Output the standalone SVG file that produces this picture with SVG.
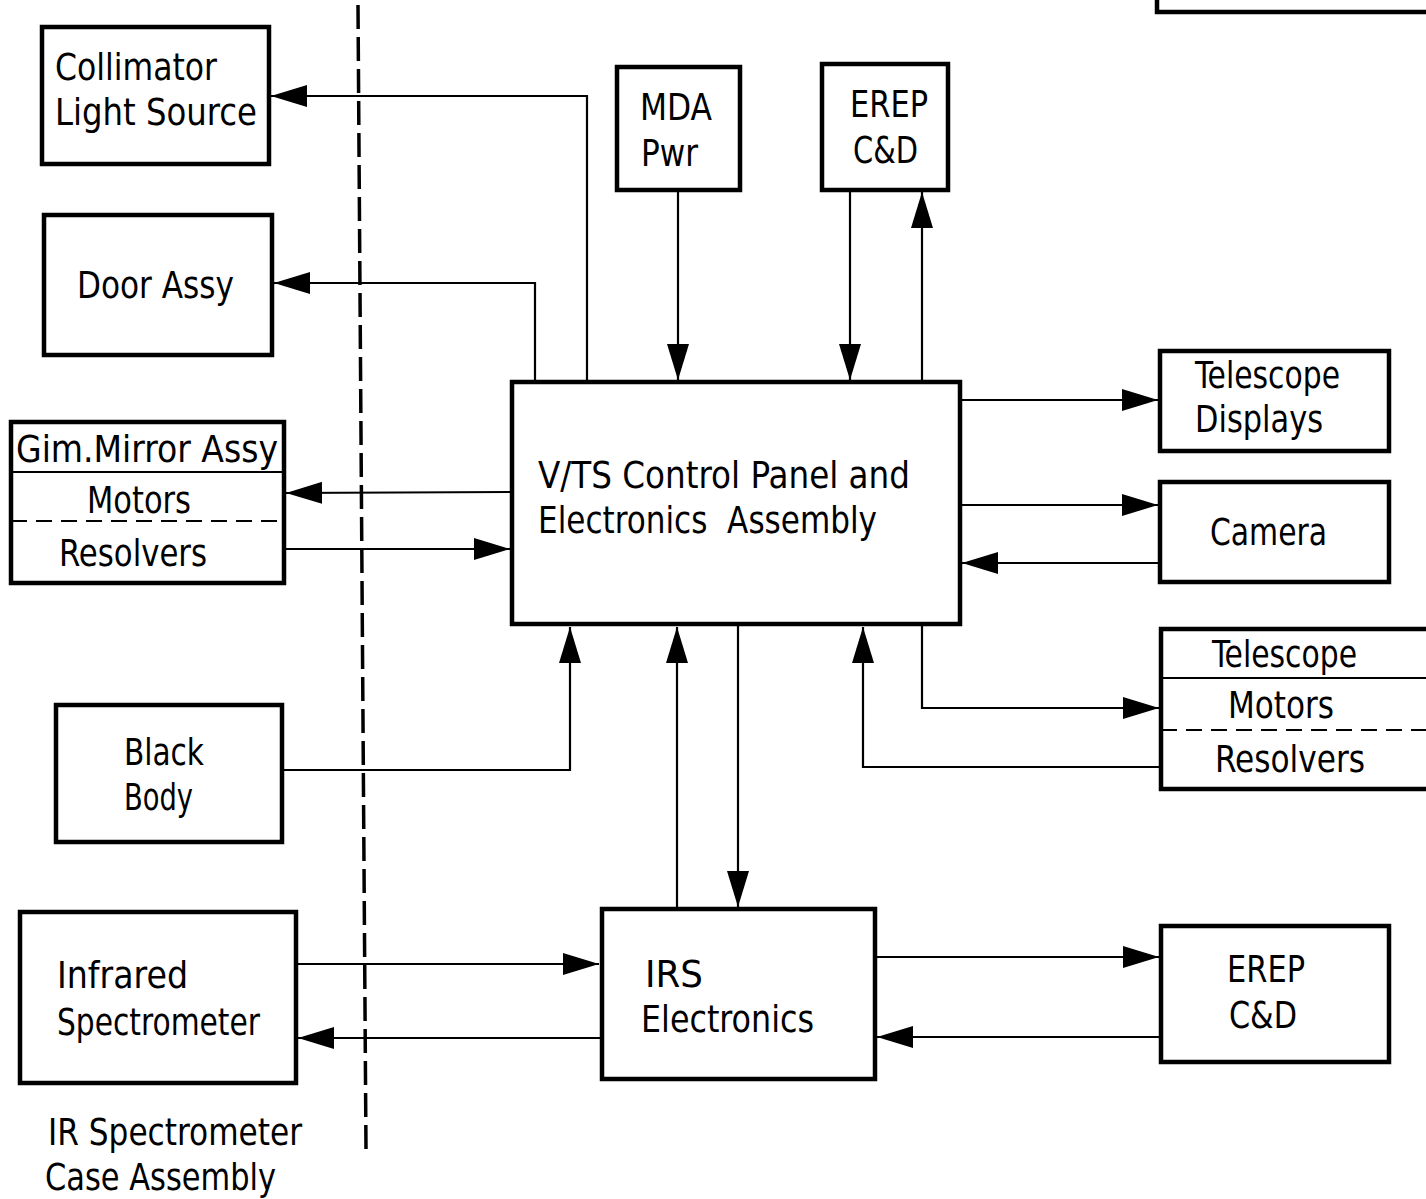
<svg xmlns="http://www.w3.org/2000/svg" width="1426" height="1199" viewBox="0 0 1426 1199">
<defs>
<style>
.box{fill:#fff;stroke:#000;stroke-width:4.5}
.ln{fill:none;stroke:#000;stroke-width:2.2}
.dv{stroke:#000;stroke-width:2;fill:none}
text{font-family:"Liberation Sans Narrow","DejaVu Sans Condensed","Liberation Sans",sans-serif;font-size:38px;fill:#000}
</style>
<marker id="ah" viewBox="0 0 36 22" refX="36" refY="11" markerWidth="36" markerHeight="22" markerUnits="userSpaceOnUse" orient="auto">
<path d="M0,0 L36,11 L0,22 Z" fill="#000"/>
</marker>
</defs>
<rect width="1426" height="1199" fill="#fff"/>

<g id="partition">
<line x1="358" y1="5" x2="366" y2="1150" stroke="#000" stroke-width="3.5" stroke-dasharray="24 8"/>
</g>

<g id="corner-box">
<path d="M1157,0 L1157,12 L1426,12" class="box"/>
</g>

<g id="connectors">
<path class="ln" d="M587,382 L587,96 L271,96" marker-end="url(#ah)"/>
<path class="ln" d="M535,382 L535,283 L274,283" marker-end="url(#ah)"/>
<path class="ln" d="M512,492 L286,493" marker-end="url(#ah)"/>
<path class="ln" d="M284,549 L510,549" marker-end="url(#ah)"/>
<path class="ln" d="M282,770 L570,770 L570,627" marker-end="url(#ah)"/>
<path class="ln" d="M677,909 L677,627" marker-end="url(#ah)"/>
<path class="ln" d="M738,625 L738,907" marker-end="url(#ah)"/>
<path class="ln" d="M1161,767 L863,767 L863,627" marker-end="url(#ah)"/>
<path class="ln" d="M922,625 L922,708 L1159,708" marker-end="url(#ah)"/>
<path class="ln" d="M678,190 L678,380" marker-end="url(#ah)"/>
<path class="ln" d="M850,190 L850,380" marker-end="url(#ah)"/>
<path class="ln" d="M922,382 L922,192" marker-end="url(#ah)"/>
<path class="ln" d="M960,400 L1158,400" marker-end="url(#ah)"/>
<path class="ln" d="M960,505 L1158,505" marker-end="url(#ah)"/>
<path class="ln" d="M1160,563 L962,563" marker-end="url(#ah)"/>
<path class="ln" d="M296,964 L599,964" marker-end="url(#ah)"/>
<path class="ln" d="M601,1038 L298,1038" marker-end="url(#ah)"/>
<path class="ln" d="M875,957 L1159,957" marker-end="url(#ah)"/>
<path class="ln" d="M1161,1037 L877,1037" marker-end="url(#ah)"/>
</g>

<g id="collimator">
<rect class="box" x="42" y="27" width="227" height="137"/>
<text x="55" y="80" textLength="162" lengthAdjust="spacingAndGlyphs">Collimator</text>
<text x="55" y="125" textLength="202" lengthAdjust="spacingAndGlyphs">Light Source</text>
</g>

<g id="door-assy">
<rect class="box" x="44" y="215" width="228" height="140"/>
<text x="77" y="298" textLength="157" lengthAdjust="spacingAndGlyphs">Door Assy</text>
</g>

<g id="gim-mirror">
<rect class="box" x="11" y="422" width="273" height="161"/>
<line class="dv" x1="11" y1="472" x2="284" y2="472"/>
<line class="dv" x1="11" y1="521" x2="284" y2="521" stroke-dasharray="16 9"/>
<text x="16" y="462" textLength="262" lengthAdjust="spacingAndGlyphs" font-size="36">Gim.Mirror Assy</text>
<text x="87" y="513" textLength="104" lengthAdjust="spacingAndGlyphs" font-size="36">Motors</text>
<text x="59" y="566" textLength="148" lengthAdjust="spacingAndGlyphs" font-size="36">Resolvers</text>
</g>

<g id="black-body">
<rect class="box" x="56" y="705" width="226" height="137"/>
<text x="124" y="765" textLength="80" lengthAdjust="spacingAndGlyphs">Black</text>
<text x="124" y="810" textLength="69" lengthAdjust="spacingAndGlyphs">Body</text>
</g>

<g id="infrared-spectrometer">
<rect class="box" x="20" y="912" width="276" height="171"/>
<text x="57" y="988" textLength="131" lengthAdjust="spacingAndGlyphs">Infrared</text>
<text x="57" y="1035" textLength="203" lengthAdjust="spacingAndGlyphs">Spectrometer</text>
</g>

<g id="case-caption">
<text x="48" y="1145" textLength="254" lengthAdjust="spacingAndGlyphs">IR Spectrometer</text>
<text x="45" y="1190" textLength="231" lengthAdjust="spacingAndGlyphs">Case Assembly</text>
</g>

<g id="mda-pwr">
<rect class="box" x="617" y="67" width="123" height="123"/>
<text x="640" y="120" textLength="72" lengthAdjust="spacingAndGlyphs">MDA</text>
<text x="641" y="166" textLength="57" lengthAdjust="spacingAndGlyphs">Pwr</text>
</g>

<g id="erep-top">
<rect class="box" x="822" y="64" width="126" height="126"/>
<text x="850" y="117" textLength="78" lengthAdjust="spacingAndGlyphs">EREP</text>
<text x="853" y="163" textLength="65" lengthAdjust="spacingAndGlyphs">C&amp;D</text>
</g>

<g id="vts-panel">
<rect class="box" x="512" y="382" width="448" height="242"/>
<text x="538" y="488" textLength="372" lengthAdjust="spacingAndGlyphs">V/TS Control Panel and</text>
<text x="538" y="533" textLength="339" lengthAdjust="spacingAndGlyphs" xml:space="preserve">Electronics  Assembly</text>
</g>

<g id="telescope-displays">
<rect class="box" x="1160" y="351" width="229" height="100"/>
<text x="1195" y="388" textLength="145" lengthAdjust="spacingAndGlyphs">Telescope</text>
<text x="1195" y="432" textLength="128" lengthAdjust="spacingAndGlyphs">Displays</text>
</g>

<g id="camera">
<rect class="box" x="1160" y="482" width="229" height="100"/>
<text x="1210" y="545" textLength="117" lengthAdjust="spacingAndGlyphs">Camera</text>
</g>

<g id="telescope-motors">
<rect class="box" x="1161" y="629" width="275" height="160"/>
<line class="dv" x1="1161" y1="678" x2="1426" y2="678"/>
<line class="dv" x1="1161" y1="730" x2="1426" y2="730" stroke-dasharray="16 9"/>
<text x="1212" y="667" textLength="145" lengthAdjust="spacingAndGlyphs" font-size="36">Telescope</text>
<text x="1228" y="718" textLength="106" lengthAdjust="spacingAndGlyphs" font-size="36">Motors</text>
<text x="1215" y="772" textLength="150" lengthAdjust="spacingAndGlyphs" font-size="36">Resolvers</text>
</g>

<g id="irs-electronics">
<rect class="box" x="602" y="909" width="273" height="170"/>
<text x="645" y="987" textLength="58" lengthAdjust="spacingAndGlyphs">IRS</text>
<text x="641" y="1032" textLength="173" lengthAdjust="spacingAndGlyphs">Electronics</text>
</g>

<g id="erep-bottom">
<rect class="box" x="1161" y="926" width="228" height="136"/>
<text x="1227" y="982" textLength="78" lengthAdjust="spacingAndGlyphs">EREP</text>
<text x="1229" y="1028" textLength="68" lengthAdjust="spacingAndGlyphs">C&amp;D</text>
</g>
</svg>
